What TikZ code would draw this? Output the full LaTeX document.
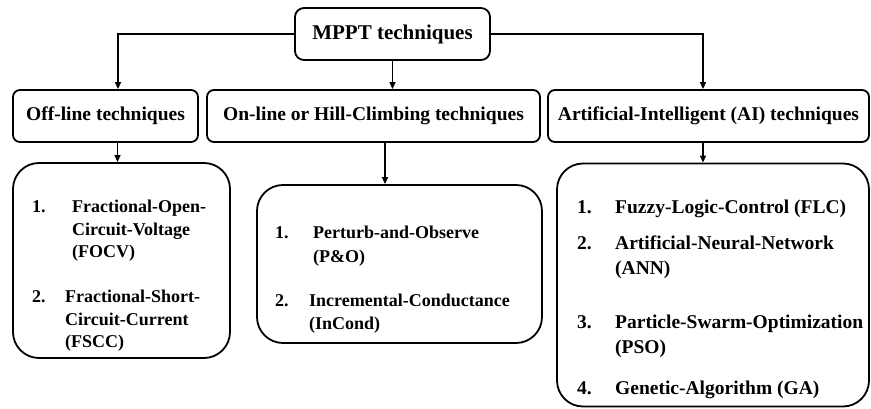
\documentclass[tikz,border=0pt]{standalone}
\usepackage{fontspec}
\setmainfont{Liberation Serif}
\usetikzlibrary{arrows.meta}
\begin{document}
\begin{tikzpicture}[x=1pt,y=-1pt,
  box/.style={draw, line width=1.8pt, rounded corners=7pt, inner sep=0pt,
    font=\bfseries\fontsize{19.5}{23}\selectfont},
  topbox/.style={box, rounded corners=9pt, font=\bfseries\fontsize{21}{25}\selectfont},
  listbox/.style={draw, line width=1.8pt, rounded corners=26pt, inner sep=0pt},
  conn/.style={line width=1.3pt, -{Triangle[length=7pt,width=6pt]}},
  item/.style={anchor=base west, inner sep=0pt, font=\bfseries\fontsize{18}{22}\selectfont},
  bigitem/.style={item, font=\bfseries\fontsize{19.5}{24}\selectfont}]
\useasboundingbox (0,0) rectangle (871,409);

% root and the three families
\node[topbox, minimum width=195pt, minimum height=52pt] (mppt) at (392.5,34) {MPPT techniques};
\node[box, minimum width=185pt, minimum height=52pt] (off) at (105.5,116) {Off-line techniques};
\node[box, minimum width=333pt, minimum height=52pt] (on) at (373.5,116) {On-line or Hill-Climbing techniques};
\node[box, minimum width=321pt, minimum height=52pt] (ai) at (708.5,116) {Artificial-Intelligent (AI) techniques};

% method lists
\node[listbox, minimum width=217pt, minimum height=195pt] (offlist) at (121.5,260.5) {};
\node[listbox, minimum width=285pt, minimum height=158pt] (onlist) at (399.5,264) {};
\node[listbox, minimum width=312pt, minimum height=243pt] (ailist) at (713,285) {};

% connectors
\draw[conn] (mppt.west) -| ([xshift=12.5pt]off.north);
\draw[conn] (mppt.south) -- (mppt.south |- on.north);
\draw[conn] (mppt.east) -| ([xshift=-5.5pt]ai.north);
\draw[conn] ([xshift=12pt]off.south) -- ([xshift=12pt]off.south |- offlist.north);
\draw[conn] ([xshift=11.5pt]on.south) -- ([xshift=11.5pt]on.south |- onlist.north);
\draw[conn] ([xshift=-5.5pt]ai.south) -- ([xshift=-5.5pt]ai.south |- ailist.north);

% off-line methods
\node[item] (n11) at (32,213) {1.};
\node[item] (a1) at (72,213) {Fractional-Open-};
\node[item] (a2) at (72,235.5) {Circuit-Voltage};
\node[item] (a3) at (72,258) {(FOCV)};
\node[item] (n12) at (32,302.5) {2.};
\node[item] (b1) at (65,302.5) {Fractional-Short-};
\node[item] (b2) at (65,325) {Circuit-Current};
\node[item] (b3) at (65,347.5) {(FSCC)};

% hill-climbing methods
\node[item] (n21) at (275,239) {1.};
\node[item] (c1) at (313,239) {Perturb-and-Observe};
\node[item] (c2) at (313,262) {(P\&O)};
\node[item] (n22) at (275,306) {2.};
\node[item] (d1) at (309,306) {Incremental-Conductance};
\node[item] (d2) at (309,329) {(InCond)};

% AI methods
\node[bigitem] (n31) at (577,214) {1.};
\node[bigitem] (e1) at (615,214) {Fuzzy-Logic-Control (FLC)};
\node[bigitem] (n32) at (577,250) {2.};
\node[bigitem] (f1) at (615,250) {Artificial-Neural-Network};
\node[bigitem] (f2) at (615,274) {(ANN)};
\node[bigitem] (n33) at (577,328) {3.};
\node[bigitem] (g1) at (615,328) {Particle-Swarm-Optimization};
\node[bigitem] (g2) at (615,353) {(PSO)};
\node[bigitem] (n34) at (577,394) {4.};
\node[bigitem] (h1) at (615,394) {Genetic-Algorithm (GA)};
\end{tikzpicture}
\end{document}
